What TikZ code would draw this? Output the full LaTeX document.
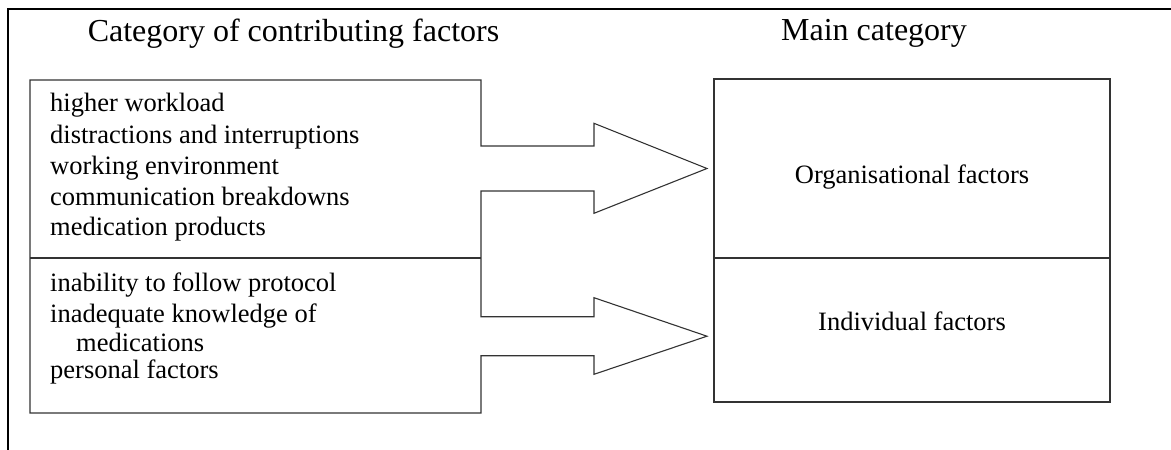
\documentclass[tikz,border=0pt]{standalone}
\usepackage{fontspec}
\setmainfont{Liberation Serif}
\begin{document}
\begin{tikzpicture}[x=1pt,y=-1pt,
  frame/.style={draw=black,line width=1.1pt},
  boxline/.style={draw=black!80,line width=1.1pt,line join=miter},
  titletext/.style={font=\fontsize{32}{38}\selectfont,inner sep=0pt,anchor=base},
  itemtext/.style={font=\fontsize{26.5}{31}\selectfont,inner sep=0pt,anchor=base west},
  maintext/.style={font=\fontsize{26.5}{31}\selectfont,inner sep=0pt,anchor=base}]
\useasboundingbox (0,0) rectangle (1171,450);
% partial outer frame
\coordinate (ftl) at (8,9);
\coordinate (ftr) at (1171,9);
\coordinate (fbl) at (8,450);
\draw[frame] (ftr) -- (ftl) -- (fbl);
% titles
\node[titletext] (t1) at (293.5,41.5) {Category of contributing factors};
\node[titletext] (t2) at (874,40.7) {Main category};
% left box with merged block arrows
\coordinate (ltl) at (30,80);
\coordinate (ltr) at (481,80);
\coordinate (lbr) at (481,413);
\coordinate (lbl) at (30,413);
\coordinate (a1tip) at (707,168.5);
\coordinate (a2tip) at (707,336.2);
\draw[boxline] (ltl) -- (ltr) -- (481,146) -- (594,146) -- (594,123.3) -- (a1tip)
  -- (594,213.3) -- (594,191) -- (481,191) -- (481,316.7) -- (594,316.7) -- (594,297.7)
  -- (a2tip) -- (594,374.3) -- (594,355.7) -- (481,355.7) -- (lbr) -- (lbl) -- cycle;
\coordinate (ldl) at (30,258);
\coordinate (ldr) at (481,258);
\draw[boxline] (ldl) -- (ldr);
% left texts
\node[itemtext] (l1) at (50,111.7) {higher workload};
\node[itemtext] (l2) at (50,143.3) {distractions and interruptions};
\node[itemtext] (l3) at (50,174.5) {working environment};
\node[itemtext] (l4) at (50,205.5) {communication breakdowns};
\node[itemtext] (l5) at (50,235) {medication products};
\node[itemtext] (l6) at (50,291.7) {inability to follow protocol};
\node[itemtext] (l7) at (50,322.5) {inadequate knowledge of};
\node[itemtext] (l8) at (76,351) {medications};
\node[itemtext] (l9) at (50,378.5) {personal factors};
% right box
\coordinate (rtl) at (714,79);
\coordinate (rbr) at (1110,402);
\draw[boxline] (rtl) rectangle (rbr);
\coordinate (rdl) at (714,258);
\coordinate (rdr) at (1110,258);
\draw[boxline] (rdl) -- (rdr);
\node[maintext] (org) at (912,183) {Organisational factors};
\node[maintext] (ind) at (912,330) {Individual factors};
\end{tikzpicture}
\end{document}
